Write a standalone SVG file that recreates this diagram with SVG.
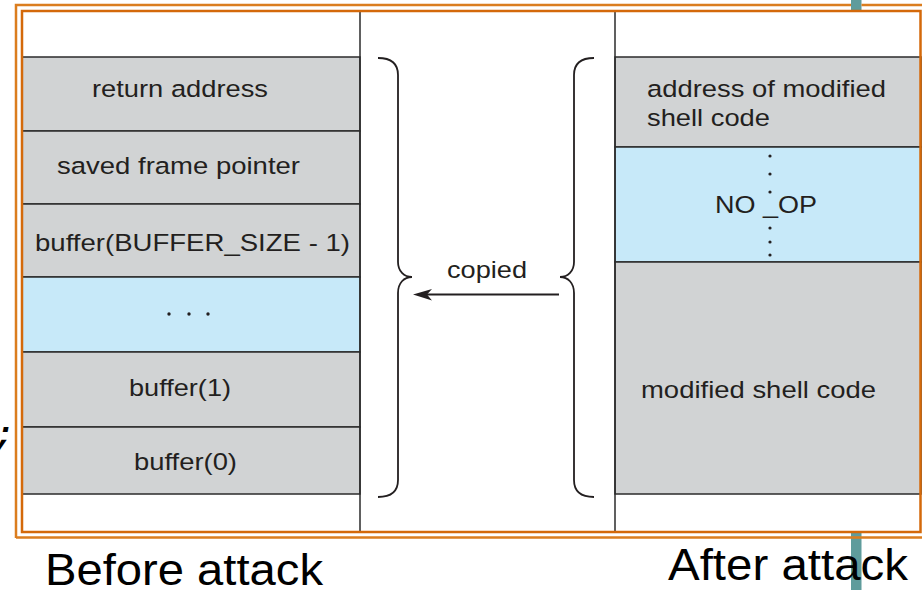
<svg xmlns="http://www.w3.org/2000/svg" width="922" height="590" viewBox="0 0 922 590">
<style>
.cell{stroke:#2b2b2b;stroke-width:1.5}
.gray{fill:#d1d3d4}
.blue{fill:#c7e9f9}
.t{font-family:"Liberation Sans",Arial,sans-serif;font-size:24.5px;fill:#231f20}
.lbl{font-family:"Liberation Sans",Arial,sans-serif;font-size:44px;fill:#000}
.brace{fill:none;stroke:#231f20;stroke-width:1.8}
.dot{fill:#231f20}
</style>
<rect x="0" y="0" width="922" height="590" fill="#fff"/>
<!-- teal bars -->
<rect x="851" y="0" width="10.5" height="10" fill="#5f9c9c"/>
<rect x="851" y="533" width="10.5" height="57" fill="#5f9c9c"/>
<!-- semicolon fragment -->
<text x="-6" y="445" font-family="Liberation Mono, monospace" font-weight="bold" font-style="italic" font-size="34" fill="#000">;</text>

<rect x="22" y="11" width="899" height="521" fill="#fff"/>

<g id="left-stack">
  <rect class="gray cell" x="22" y="57" width="338" height="74"/>
  <rect class="gray cell" x="22" y="131" width="338" height="73"/>
  <rect class="gray cell" x="22" y="204" width="338" height="73"/>
  <rect class="blue cell" x="22" y="277" width="338" height="75"/>
  <rect class="gray cell" x="22" y="352" width="338" height="75"/>
  <rect class="gray cell" x="22" y="427" width="338" height="67"/>
</g>
<g id="right-stack">
  <rect class="gray cell" x="615" y="57" width="306" height="90"/>
  <rect class="blue cell" x="615" y="147" width="306" height="115"/>
  <rect class="gray cell" x="615" y="262" width="306" height="232"/>
</g>
<line x1="360" y1="11" x2="360" y2="532" stroke="#2b2b2b" stroke-width="1.5"/>
<line x1="615" y1="11" x2="615" y2="532" stroke="#2b2b2b" stroke-width="1.5"/>

<g id="n-return"><text class="t" x="92" y="97" textLength="176" lengthAdjust="spacingAndGlyphs">return address</text></g>
<g id="n-sfp"><text class="t" x="57" y="174" textLength="243" lengthAdjust="spacingAndGlyphs">saved frame pointer</text></g>
<g id="n-bufmax"><text class="t" x="35" y="251" textLength="315" lengthAdjust="spacingAndGlyphs">buffer(BUFFER_SIZE - 1)</text></g>
<g id="n-dots">
  <circle class="dot" cx="169" cy="314" r="1.7"/>
  <circle class="dot" cx="189" cy="314" r="1.7"/>
  <circle class="dot" cx="208" cy="314" r="1.7"/>
</g>
<g id="n-buf1"><text class="t" x="129" y="396" textLength="102" lengthAdjust="spacingAndGlyphs">buffer(1)</text></g>
<g id="n-buf0"><text class="t" x="134" y="469.5" textLength="103" lengthAdjust="spacingAndGlyphs">buffer(0)</text></g>

<g id="n-addr">
  <text class="t" x="647" y="97" textLength="239" lengthAdjust="spacingAndGlyphs">address of modified</text>
  <text class="t" x="647" y="126" textLength="123" lengthAdjust="spacingAndGlyphs">shell code</text>
</g>
<g id="n-noop">
  <text class="t" x="715" y="213" textLength="102" lengthAdjust="spacingAndGlyphs">NO _OP</text>
  <circle class="dot" cx="770" cy="156" r="1.6"/>
  <circle class="dot" cx="770" cy="174" r="1.6"/>
  <circle class="dot" cx="770" cy="192" r="1.6"/>
  <circle class="dot" cx="770" cy="228" r="1.6"/>
  <circle class="dot" cx="770" cy="242" r="1.6"/>
  <circle class="dot" cx="770" cy="255" r="1.6"/>
</g>
<g id="n-shell"><text class="t" x="641" y="398" textLength="235" lengthAdjust="spacingAndGlyphs">modified shell code</text></g>

<g id="connectors">
  <path class="brace" d="M378 58 C392 58 398 64 398 75 L398 262 C398 271 404 277 412 277 C404 277 398 283 398 293 L398 480 C398 491 392 497 378 497"/>
  <path class="brace" d="M594 58 C580 58 574 64 574 75 L574 262 C574 271 568 277 560 277 C568 277 574 283 574 293 L574 480 C574 491 580 497 594 497"/>
  <line x1="559" y1="294.5" x2="425" y2="294.5" stroke="#231f20" stroke-width="2"/>
  <path d="M413 294.5 L432 289 L427 294.5 L432 300.5 Z" fill="#231f20"/>
  <text class="t" x="447" y="278" textLength="80" lengthAdjust="spacingAndGlyphs">copied</text>
</g>

<!-- orange double frame -->
<rect x="22" y="11" width="898.5" height="521" fill="none" stroke="#d4690a" stroke-width="2.5"/>
<path d="M16 538 L16 5 L851 5 M861.5 5 L922 5 M16 537.5 L922 537.5" fill="none" stroke="#db7d1e" stroke-width="2.5"/>

<g id="labels">
  <text class="lbl" x="45" y="585" textLength="278" lengthAdjust="spacingAndGlyphs">Before attack</text>
  <text class="lbl" x="668" y="580" textLength="240" lengthAdjust="spacingAndGlyphs">After attack</text>
</g>
</svg>
